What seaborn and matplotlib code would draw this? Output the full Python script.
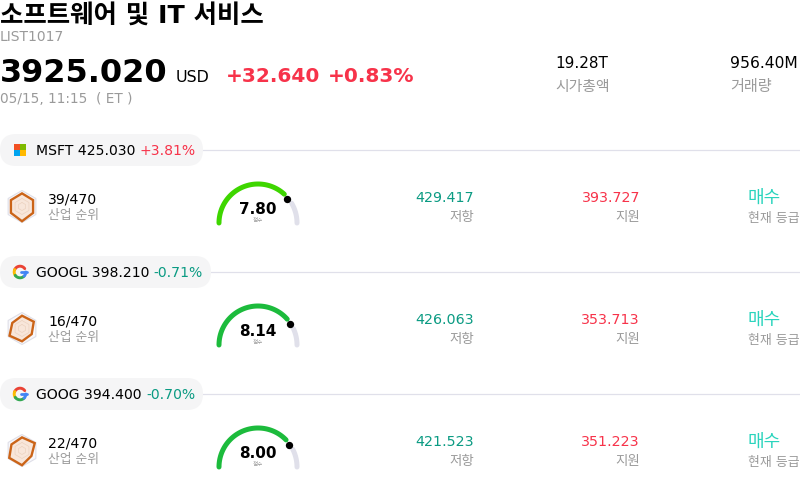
import numpy as np
import pandas as pd
import matplotlib
matplotlib.use("Agg")
import matplotlib.pyplot as plt
from matplotlib.patches import FancyBboxPatch, Rectangle
import seaborn as sns

# header values
title = "소프트웨어 및 IT 서비스"
code = "LIST1017"
price = "3925.020"
change = "+32.640"
change_pct = "+0.83%"
timestamp = "05/15, 11:15  ( ET )"
market_cap = "19.28T"
volume = "956.40M"

# one entry per stock
tickers = ["MSFT", "GOOGL", "GOOG"]
prices = ["425.030", "398.210", "394.400"]
pcts = ["+3.81%", "-0.71%", "-0.70%"]
ranks = ["39/470", "16/470", "22/470"]
scores = [7.80, 8.14, 8.00]
resistance = ["429.417", "426.063", "421.523"]
support = ["393.727", "353.713", "351.223"]
ratings = ["매수", "매수", "매수"]
radar_values = [
    [0.82, 0.80, 0.80, 0.92, 0.80, 0.80],
    [0.80, 0.85, 0.70, 0.80, 0.90, 0.70],
    [0.82, 0.92, 0.68, 0.92, 0.92, 0.76],
]
gauge_colors = ["#3ed600", "#1cbb3c", "#1cbb3c"]
pill_widths = [203, 211, 203]

RED = "#f7334a"
GREEN = "#0b9b83"
TEAL = "#2bd4bd"
GREY = "#9a9a9a"
LINE = "#e0e0ea"

sns.set_theme(style="white")
plt.rcParams["font.family"] = ["DejaVu Sans", "Noto Sans CJK KR"]

fig = plt.figure(figsize=(8, 4.88), dpi=100)
ax = fig.add_axes([0, 0, 1, 1])
ax.set_xlim(0, 800)
ax.set_ylim(488, 0)
ax.axis("off")


def txt(x, y, s, size, color="black", weight="normal", ha="left"):
    ax.text(x, y + 1, s, fontsize=size, color=color, fontweight=weight, ha=ha, va="center", zorder=5)


def arc(cx, cy, r, start, end, color, width):
    # angles in degrees, 0 = left end of the gauge, going clockwise over the top
    t = np.radians(np.linspace(start, end, 60))
    df = pd.DataFrame({"x": cx - r * np.cos(t), "y": cy - r * np.sin(t)})
    sns.lineplot(data=df, x="x", y="y", ax=ax, color=color, linewidth=width, sort=False,
                 estimator=None, solid_capstyle="round", legend=False, zorder=3)


def radar(cx, cy, r, vals):
    t = np.radians(np.arange(6) * 60 - 90)
    ax.fill(cx + r * np.cos(t), cy + r * np.sin(t), facecolor="#f8f8fb", edgecolor="#dfdfe8", linewidth=0.8)
    v = np.array(vals)
    ax.fill(cx + v * r * np.cos(t), cy + v * r * np.sin(t), facecolor="#f8e6da",
            edgecolor="#cb6418", linewidth=1.7)
    closed = np.r_[t, t[0]]
    for k in [0.25, 0.5]:
        ax.plot(cx + k * r * np.cos(closed), cy + k * r * np.sin(closed), color="#ecd2c0", linewidth=0.5)


def ms_logo(cx, cy):
    for dx, dy, c in [(-6, -6, "#f25022"), (0, -6, "#7fba00"), (-6, 0, "#00a4ef"), (0, 0, "#ffb900")]:
        ax.add_patch(Rectangle((cx + dx, cy + dy), 5.6, 5.6, facecolor=c, edgecolor="none", zorder=3))


def g_logo(cx, cy):
    arc(cx, cy, 5.8, 20, 145, "#ea4335", 2.1)
    arc(cx, cy, 5.8, -40, 25, "#fbbc05", 2.1)
    arc(cx, cy, 5.8, -135, -35, "#34a853", 2.1)
    arc(cx, cy, 5.8, -180, -135, "#4285f4", 2.1)
    df = pd.DataFrame({"x": [cx + 0.5, cx + 6.5], "y": [cy, cy]})
    sns.lineplot(data=df, x="x", y="y", ax=ax, color="#4285f4", linewidth=2.0, legend=False, zorder=3)


# header
txt(0, 14.5, title, 18.3, weight="bold")
txt(0, 36, code, 10, GREY)
txt(0, 72, price, 23, weight="bold")
txt(176, 76.5, "USD", 11.4)
txt(226, 75, change, 14.5, RED, "bold")
txt(328, 75, change_pct, 14.5, RED, "bold")
txt(0, 98, timestamp, 9.8, GREY)
txt(555, 62.5, market_cap, 11)
txt(555, 85, "시가총액", 10.7, GREY)
txt(730, 62.5, volume, 11.2)
txt(730, 85, "거래량", 10.9, GREY)

# stock rows, 122px apart
for i, tk in enumerate(tickers):
    off = 122 * i
    ax.plot([pill_widths[i] - 5, 800], [150 + off, 150 + off], color=LINE, linewidth=0.9, zorder=1)
    ax.add_patch(FancyBboxPatch((0, 134 + off), pill_widths[i], 32,
                                boxstyle="round,pad=0,rounding_size=16",
                                facecolor="#f5f5f6", edgecolor="none", zorder=1.5))
    pct_color = RED if pcts[i].startswith("+") else GREEN
    head = ax.text(36, 151 + off, f"{tk} {prices[i]} ", fontsize=10.1, color="black", va="center", zorder=5)
    fig.canvas.draw()
    end = head.get_window_extent().x1
    ax.text(end, 151 + off, pcts[i], fontsize=10.1, color=pct_color, va="center", zorder=5)

    radar(22, 206.5 + off, 16, radar_values[i])
    txt(48, 198.5 + off, ranks[i], 10.1)
    txt(48, 214 + off, "산업 순위", 9.2, GREY)

    # gauge: 0-10 maps on to 0-180 degrees
    ang = scores[i] / 10 * 180
    arc(258, 223 + off, 39, 0, ang - 8, gauge_colors[i], 3.6)
    arc(258, 223 + off, 39, ang + 9, 180, LINE, 3.6)
    pt = np.radians(ang)
    dot = pd.DataFrame({"x": [258 - 38 * np.cos(pt)], "y": [223 + off - 38 * np.sin(pt)]})
    sns.scatterplot(data=dot, x="x", y="y", ax=ax, color="black", s=28, linewidth=0, legend=False, zorder=4)
    txt(258, 208.5 + off, f"{scores[i]:.2f}", 11, weight="bold", ha="center")
    txt(258, 219.5 + off, "점수", 4, GREY, ha="center")

    txt(474, 196.5 + off, resistance[i], 10.3, GREEN, ha="right")
    txt(474, 216 + off, "저항", 9.7, GREY, ha="right")
    txt(640, 196.5 + off, support[i], 10.3, RED, ha="right")
    txt(640, 216 + off, "지원", 9.7, GREY, ha="right")
    txt(748, 197 + off, ratings[i], 13, TEAL)
    txt(748, 217.5 + off, "현재 등급", 9.3, GREY)

    if tk == "MSFT":
        ms_logo(20, 150 + off)
    else:
        g_logo(20, 150 + off)

ax.set_xlabel("")
ax.set_ylabel("")
ax.set_xlim(0, 800)
ax.set_ylim(488, 0)
fig.savefig("out.png", dpi=100)
